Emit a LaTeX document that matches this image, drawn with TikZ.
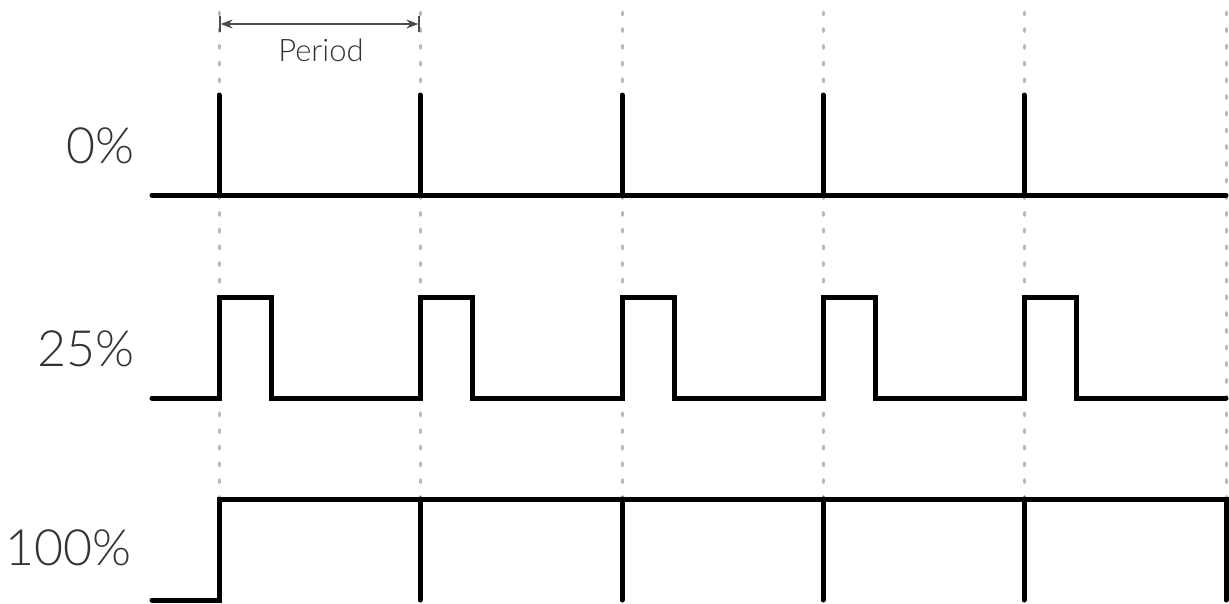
\documentclass[tikz,border=0pt]{standalone}
\usepackage{fontspec}
\setmainfont{Lato}[UprightFont={* Light}]
\usetikzlibrary{arrows.meta}
\begin{document}
\begin{tikzpicture}[x=1pt,y=-1pt,
  wave/.style={line width=5pt,line cap=round,line join=miter,black},
  guide/.style={line width=3pt,line cap=round,gray!55,dash pattern=on 3pt off 13.7pt},
  dim/.style={line width=1.6pt,black!70,{Bar[width=16pt].Stealth[length=12pt,width=9pt]}-{Stealth[length=12pt,width=9pt].Bar[width=16pt]}},
  pct/.style={anchor=east,text=black!80,font=\fontsize{50}{50}\selectfont,inner sep=0pt},
  lbl/.style={text=black!80,font=\fontsize{31}{31}\selectfont,inner sep=0pt}]
\useasboundingbox (0,0) rectangle (1229,603);
% guide lines
\foreach \x/\n in {219/a,420/b,622/c,823/d,1024/e,1226/f}{
  \coordinate (top\n) at (\x,12);
  \coordinate (bot\n) at (\x,600);
  \draw[guide] (top\n) -- (bot\n);
}
% period dimension
\coordinate (pa) at (219,24);
\coordinate (pb) at (420,24);
\draw[dim] (pa) -- (pb);
\node[lbl] (period) at (321,50) {Period};
% labels
\node[pct] (l0) at (135,146) {0\%};
\node[pct] (l25) at (135,349) {25\%};
\node[pct] (l100) at (132,548) {100\%};
% 0% row
\draw[wave] (152,195) -- (1226,195);
\foreach \x in {219,420,622,823,1024}{
  \draw[wave] (\x,95) -- (\x,195);
}
% 25% row
\draw[wave] (152,398)
  \foreach \x in {219,420,622,823,1024}{
    -- (\x,398) -- (\x,297) -- (\x+52,297) -- (\x+52,398)
  } -- (1226,398);
% 100% row
\draw[wave] (152,600) -- (219,600) -- (219,499) -- (1226,499) -- (1226,600);
\foreach \x in {420,622,823,1024}{
  \draw[wave] (\x,499) -- (\x,600);
}
\end{tikzpicture}
\end{document}
